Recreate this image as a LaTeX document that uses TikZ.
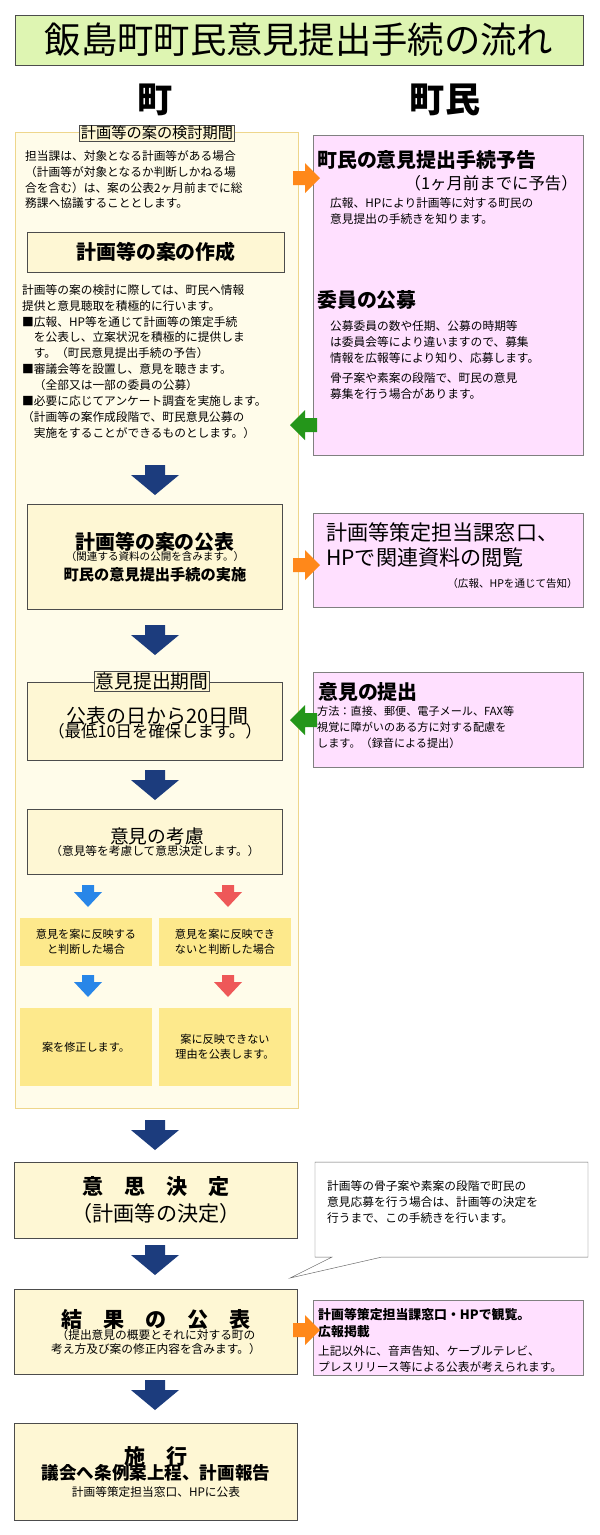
\documentclass[tikz,border=0pt]{standalone}
\usepackage{fontspec}
\setmainfont{Noto Sans CJK JP}
\usepackage{xcolor}
\usetikzlibrary{positioning}
\definecolor{ttlgreen}{RGB}{222,245,178}
\definecolor{panelbg}{RGB}{255,252,234}
\definecolor{panelline}{RGB}{238,214,140}
\definecolor{stepbg}{RGB}{254,247,212}
\definecolor{pinkbg}{RGB}{255,224,255}
\definecolor{yelbg}{RGB}{253,233,140}
\definecolor{navy}{RGB}{28,60,125}
\definecolor{skyblue}{RGB}{40,134,232}
\definecolor{redarr}{RGB}{238,88,88}
\definecolor{orangearr}{RGB}{255,136,26}
\definecolor{greenarr}{RGB}{36,150,26}
\newcommand{\fs}[1]{\fontsize{#1}{\the\dimexpr #1pt*13/10\relax}\selectfont}
\newcommand{\navyarr}[2]{\fill[navy,shift={(#1,#2)}] (-10,0) -- (10,0) -- (10,10) -- (24,10) -- (0,30) -- (-24,10) -- (-10,10) -- cycle;}
\newcommand{\smallarr}[3]{\fill[#1,shift={(#2,#3)}] (-6,0) -- (6,0) -- (6,7) -- (14,7) -- (0,22) -- (-14,7) -- (-6,7) -- cycle;}
\newcommand{\rarr}[3]{\fill[#1,shift={(#2,#3)}] (0,-7) -- (12,-7) -- (12,-15) -- (27,0) -- (12,15) -- (12,7) -- (0,7) -- cycle;}
\newcommand{\larr}[3]{\fill[#1,shift={(#2,#3)}] (27,-7) -- (15,-7) -- (15,-15) -- (0,0) -- (15,15) -- (15,7) -- (27,7) -- cycle;}
\tikzset{
  stepbox/.style={draw=black!70, fill=stepbg, align=center, inner sep=2pt},
  pinkbox/.style={draw=black!50, fill=pinkbg, thick},
  yelbox/.style={fill=yelbg, align=center, inner sep=2pt, font=\fs{9.5}},
  body/.style={anchor=north west, align=left, inner sep=0pt, font=\fontsize{10}{13.6}\selectfont},
  head/.style={anchor=north west, inner sep=0pt, font=\fs{17}\bfseries},
}
\begin{document}
\begin{tikzpicture}[x=0.3mm, y=-0.3mm]
\useasboundingbox[fill=white] (0,0) rectangle (600,1535);

% Title and column heads
\node[draw=black!70, fill=ttlgreen, minimum width=170.4mm, minimum height=15mm, font=\fs{31}] (title) at (299,40) {飯島町町民意見提出手続の流れ};
\node[font=\fs{30}\bfseries] (town) at (155,100) {町};
\node[font=\fs{30}\bfseries] (citizen) at (445,100) {町民};

% Left panel
\draw[panelline, fill=panelbg, thick] (15,132) rectangle (298,1108);
\node[draw=black!70, fill=stepbg, font=\fs{13}, inner sep=1pt] (period) at (157,133) {計画等の案の検討期間};
\node[body] (intro) at (25,150) {担当課は、対象となる計画等がある場合\\（計画等が対象となるか判断しかねる場\\合を含む）は、案の公表2ヶ月前までに総\\務課へ協議することとします。};
\node[stepbox, minimum width=77.1mm, minimum height=12mm, font=\fs{17}\bfseries] (draft) at (156,252) {計画等の案の作成};
\node[body] (draftnote) at (22,284) {計画等の案の検討に際しては、町民へ情報\\提供と意見聴取を積極的に行います。\\■広報、HP等を通じて計画等の策定手続\\\hspace{1em}を公表し、立案状況を積極的に提供しま\\\hspace{1em}す。（町民意見提出手続の予告）\\■審議会等を設置し、意見を聴きます。\\\hspace{1em}（全部又は一部の委員の公募）\\■必要に応じてアンケート調査を実施します。\\（計画等の案作成段階で、町民意見公募の\\\hspace{1em}実施をすることができるものとします。）};

% Right panel 1
\draw[pinkbox] (313,135) rectangle (583,455);
\node[head] (notice) at (317,150) {町民の意見提出手続予告};
\node[anchor=north east, font=\fs{14}, inner sep=0pt] (month) at (578,175) {（1ヶ月前までに予告）};
\node[body] (noticenote) at (330,197) {広報、HPにより計画等に対する町民の\\意見提出の手続きを知ります。};
\node[head] (recruit) at (317,290) {委員の公募};
\node[body] (recruitnote) at (330,320) {公募委員の数や任期、公募の時期等\\は委員会等により違いますので、募集\\情報を広報等により知り、応募します。\\[4pt]骨子案や素案の段階で、町民の意見\\募集を行う場合があります。};
\rarr{orangearr}{293}{178}
\larr{greenarr}{290}{425}

\navyarr{155}{465}

% Publication
\node[stepbox, minimum width=76.5mm, minimum height=31.5mm] (publish) at (155,557) {{\fs{17}\bfseries 計画等の案の公表}\\[-2pt]{\fs{9}（関連する資料の公開を含みます。）}\\[4pt]{\fs{13}\bfseries 町民の意見提出手続の実施}};
\draw[pinkbox] (313,513) rectangle (583,607);
\node[anchor=north west, inner sep=0pt, font=\fontsize{18}{22}\selectfont, align=left] (browse) at (326,522) {計画等策定担当課窓口、\\HPで関連資料の閲覧};
\node[anchor=north east, inner sep=0pt, font=\fs{9}] (browsenote) at (578,578) {（広報、HPを通じて告知）};
\rarr{orangearr}{293}{565}

\navyarr{155}{625}

% Submission period
\node[stepbox, minimum width=76.5mm, minimum height=23.4mm] (subperiod) at (155,721) {\\[2pt]{\fs{17} 公表の日から20日間}\\[-3pt]{\fs{14}（最低10日を確保します。）}};
\node[draw=black!70, fill=stepbg, font=\fs{16}, inner sep=1pt] (sublabel) at (152,681) {意見提出期間};
\draw[pinkbox] (313,672) rectangle (583,767);
\node[head] (submit) at (318,682) {意見の提出};
\node[body, font=\fontsize{9.5}{13.6}\selectfont] (submitnote) at (317,706) {方法：直接、郵便、電子メール、FAX等\\視覚に障がいのある方に対する配慮を\\します。（録音による提出）};
\larr{greenarr}{290}{720}

\navyarr{155}{770}

% Consideration
\node[stepbox, minimum width=76.5mm, minimum height=19.5mm] (consider) at (155,842) {{\fs{16} 意見の考慮}\\[-2pt]{\fs{10}（意見等を考慮して意思決定します。）}};
\smallarr{skyblue}{88}{885}
\smallarr{redarr}{228}{885}
\node[yelbox, minimum width=39.6mm, minimum height=14.4mm] (reflect) at (86,942) {意見を案に反映する\\と判断した場合};
\node[yelbox, minimum width=39.6mm, minimum height=14.4mm] (noreflect) at (225,942) {意見を案に反映でき\\ないと判断した場合};
\smallarr{skyblue}{88}{975}
\smallarr{redarr}{228}{975}
\node[yelbox, minimum width=39.6mm, minimum height=23.4mm] (revise) at (86,1047) {案を修正します。};
\node[yelbox, minimum width=39.6mm, minimum height=23.4mm] (reason) at (225,1047) {案に反映できない\\理由を公表します。};

\navyarr{155}{1120}

% Decision
\node[stepbox, minimum width=84.9mm, minimum height=22.8mm, font=\fs{18}] (decide) at (156,1200) {{\bfseries 意　思　決　定}\\（計画等の決定）};
\draw[draw=black!60, fill=white] (315,1162) -- (588,1162) -- (588,1257) -- (382,1257) -- (290,1278) -- (332,1257) -- (315,1257) -- cycle;
\node[body] (callout) at (327,1180) {計画等の骨子案や素案の段階で町民の\\意見応募を行う場合は、計画等の決定を\\行うまで、この手続きを行います。};

\navyarr{155}{1245}

% Result
\node[stepbox, minimum width=84.9mm, minimum height=25.5mm] (result) at (156,1332) {{\fs{18}\bfseries 結　果　の　公　表}\\[-2pt]\fs{10}（提出意見の概要とそれに対する町の\\\fs{10}考え方及び案の修正内容を含みます。）};
\draw[pinkbox] (313,1300) rectangle (583,1375);
\node[body, font=\fontsize{11}{15}\selectfont\bfseries] (view) at (318,1308) {計画等策定担当課窓口・HPで観覧。\\広報掲載};
\node[body, font=\fontsize{10}{13.6}\selectfont] (viewnote) at (318,1345) {上記以外に、音声告知、ケーブルテレビ、\\プレスリリース等による公表が考えられます。};
\rarr{orangearr}{293}{1330}

\navyarr{155}{1380}

% Enforcement
\node[stepbox, minimum width=84.9mm, minimum height=29.1mm] (enforce) at (156,1472) {{\fs{18}\bfseries 施　行}\\[-3pt]{\fs{15}\bfseries 議会へ条例案上程、計画報告}\\[3pt]{\fs{10}計画等策定担当窓口、HPに公表}};
\end{tikzpicture}
\end{document}
